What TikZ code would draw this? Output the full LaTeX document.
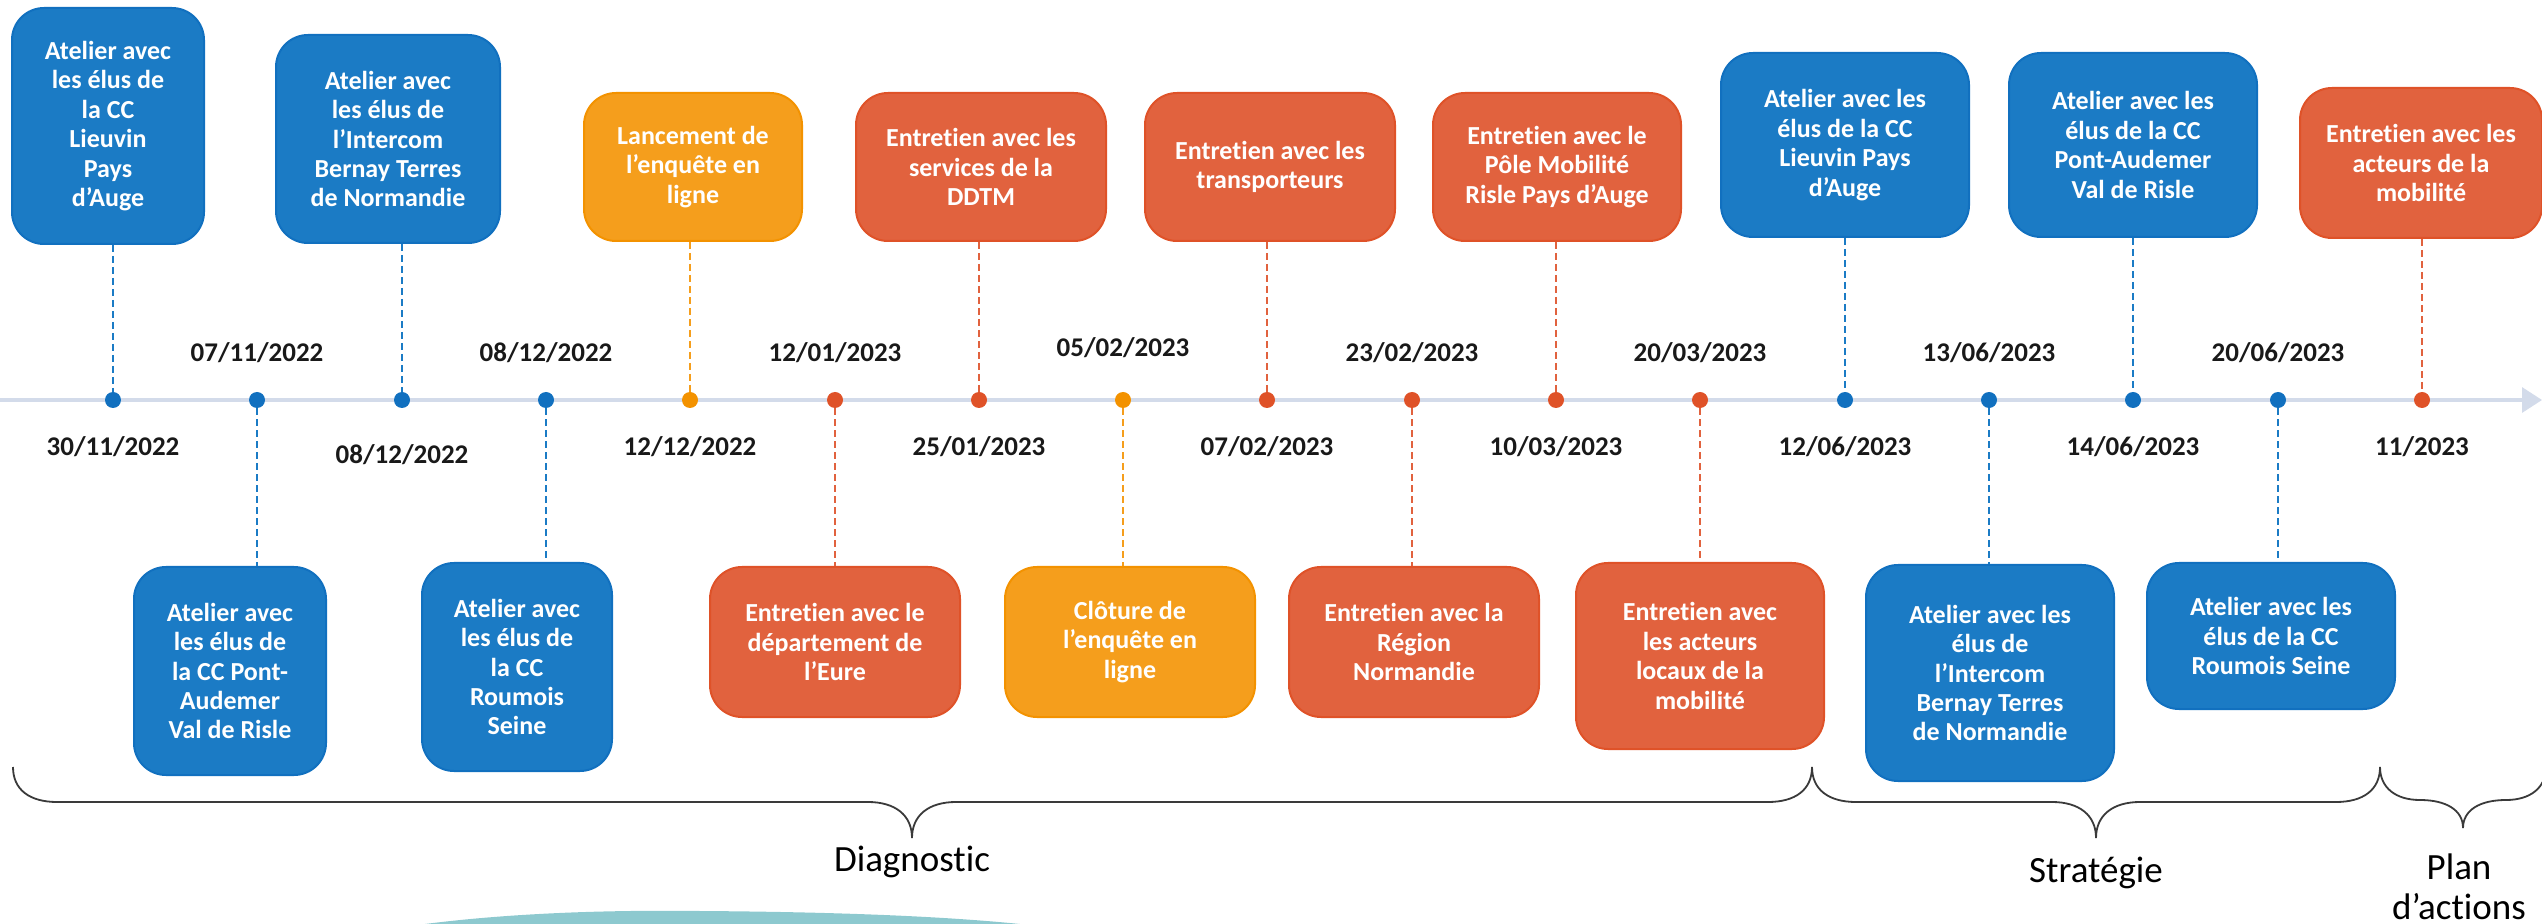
\documentclass[tikz,border=0pt]{standalone}
\usepackage{fontspec}
\setmainfont{Carlito}[Ligatures=NoCommon]
\usetikzlibrary{arrows.meta,positioning}
\definecolor{atelier}{HTML}{1B7BC5}
\definecolor{atelierfonce}{HTML}{1170BF}
\definecolor{entretien}{HTML}{E1623E}
\definecolor{entretienfonce}{HTML}{DF5228}
\definecolor{enquete}{HTML}{F59E1C}
\definecolor{enquetefonce}{HTML}{F39200}
\definecolor{axe}{HTML}{D3DBEA}
\definecolor{accolade}{HTML}{3A3A3A}
\definecolor{vague}{HTML}{8DC9CF}

\begin{document}
\begin{tikzpicture}[x=0.5pt, y=-0.5pt,
    etape/.style={rounded corners=16pt, line width=1pt, text=white, align=center,
        inner sep=0pt, font=\fontsize{13}{14.7}\selectfont\bfseries},
    atelier/.style={etape, fill=atelier, draw=atelierfonce},
    entretien/.style={etape, fill=entretien, draw=entretienfonce},
    enquete/.style={etape, fill=enquete, draw=enquetefonce},
    jalon/.style={circle, inner sep=0pt, minimum size=8pt},
    lien/.style={dash pattern=on 3.5pt off 2pt, line width=0.8pt},
    date/.style={font=\fontsize{13.5}{16}\selectfont\bfseries, text=black!90},
    phase/.style={font=\fontsize{18.5}{20}\selectfont, align=center},
    ligne/.style={draw=axe, line width=1.6pt, -{Triangle[length=10pt, width=12.5pt]}},
    accolade/.style={draw=accolade, line width=0.9pt}]
    \useasboundingbox (0,0) rectangle (2542,924);
    \fill[vague] (425,924) .. controls (520,912) and (620,910) .. (700,911)
        .. controls (850,912) and (950,917) .. (1020,924) -- cycle;
    \coordinate (debut) at (0,400);
    \coordinate (fin) at (2542,400);
    \draw[ligne] (debut) -- (fin);

    \node[jalon, fill=atelierfonce] (j0) at (113,400) {};
    \node[jalon, fill=atelierfonce] (j1) at (257,400) {};
    \node[jalon, fill=atelierfonce] (j2) at (402,400) {};
    \node[jalon, fill=atelierfonce] (j3) at (546,400) {};
    \node[jalon, fill=enquetefonce] (j4) at (690,400) {};
    \node[jalon, fill=entretienfonce] (j5) at (835,400) {};
    \node[jalon, fill=entretienfonce] (j6) at (979,400) {};
    \node[jalon, fill=enquetefonce] (j7) at (1123,400) {};
    \node[jalon, fill=entretienfonce] (j8) at (1267,400) {};
    \node[jalon, fill=entretienfonce] (j9) at (1412,400) {};
    \node[jalon, fill=entretienfonce] (j10) at (1556,400) {};
    \node[jalon, fill=entretienfonce] (j11) at (1700,400) {};
    \node[jalon, fill=atelierfonce] (j12) at (1845,400) {};
    \node[jalon, fill=atelierfonce] (j13) at (1989,400) {};
    \node[jalon, fill=atelierfonce] (j14) at (2133,400) {};
    \node[jalon, fill=atelierfonce] (j15) at (2278,400) {};
    \node[jalon, fill=entretienfonce] (j16) at (2422,400) {};

    \node[date] (t0) at (113,447) {30/11/2022};
    \node[date] (t1) at (257,353) {07/11/2022};
    \node[date] (t2) at (402,455) {08/12/2022};
    \node[date] (t3) at (546,353) {08/12/2022};
    \node[date] (t4) at (690,447) {12/12/2022};
    \node[date] (t5) at (835,353) {12/01/2023};
    \node[date] (t6) at (979,447) {25/01/2023};
    \node[date] (t7) at (1123,348) {05/02/2023};
    \node[date] (t8) at (1267,447) {07/02/2023};
    \node[date] (t9) at (1412,353) {23/02/2023};
    \node[date] (t10) at (1556,447) {10/03/2023};
    \node[date] (t11) at (1700,353) {20/03/2023};
    \node[date] (t12) at (1845,447) {12/06/2023};
    \node[date] (t13) at (1989,353) {13/06/2023};
    \node[date] (t14) at (2133,447) {14/06/2023};
    \node[date] (t15) at (2278,353) {20/06/2023};
    \node[date] (t16) at (2422,447) {11/2023};

    \node[atelier, minimum width=96pt, minimum height=118pt] (b0) at (108,126)
        {Atelier avec\\les élus de\\la CC\\Lieuvin\\Pays\\d’Auge};
    \node[atelier, minimum width=112pt, minimum height=104pt] (b2) at (388,139)
        {Atelier avec\\les élus de\\l’Intercom\\Bernay Terres\\de Normandie};
    \node[enquete, minimum width=109pt, minimum height=74pt] (b4) at (693,167)
        {Lancement de\\l’enquête en\\ligne};
    \node[entretien, minimum width=125pt, minimum height=74pt] (b6) at (981,167)
        {Entretien avec les\\services de la\\DDTM};
    \node[entretien, minimum width=125pt, minimum height=74pt] (b8) at (1270,167)
        {Entretien avec les\\transporteurs};
    \node[entretien, minimum width=124pt, minimum height=74pt] (b10) at (1557,167)
        {Entretien avec le\\Pôle Mobilité\\Risle Pays d’Auge};
    \node[atelier, minimum width=124pt, minimum height=92pt] (b12) at (1845,145)
        {Atelier avec les\\élus de la CC\\Lieuvin Pays\\d’Auge};
    \node[atelier, minimum width=124pt, minimum height=92pt] (b14) at (2133,145)
        {Atelier avec les\\élus de la CC\\Pont-Audemer\\Val de Risle};
    \node[entretien, minimum width=121pt, minimum height=75pt] (b16) at (2421,163)
        {Entretien avec les\\acteurs de la\\mobilité};

    \node[atelier, minimum width=96pt, minimum height=104pt] (b1) at (230,671)
        {Atelier avec\\les élus de\\la CC Pont-\\Audemer\\Val de Risle};
    \node[atelier, minimum width=95pt, minimum height=104pt] (b3) at (517,667)
        {Atelier avec\\les élus de\\la CC\\Roumois\\Seine};
    \node[entretien, minimum width=125pt, minimum height=75pt] (b5) at (835,642)
        {Entretien avec le\\département de\\l’Eure};
    \node[enquete, minimum width=125pt, minimum height=75pt] (b7) at (1130,642)
        {Clôture de\\l’enquête en\\ligne};
    \node[entretien, minimum width=125pt, minimum height=75pt] (b9) at (1414,642)
        {Entretien avec la\\Région\\Normandie};
    \node[entretien, minimum width=124pt, minimum height=93pt] (b11) at (1700,656)
        {Entretien avec\\les acteurs\\locaux de la\\mobilité};
    \node[atelier, minimum width=124pt, minimum height=108pt] (b13) at (1990,673)
        {Atelier avec les\\élus de\\l’Intercom\\Bernay Terres\\de Normandie};
    \node[atelier, minimum width=124pt, minimum height=73pt] (b15) at (2271,636)
        {Atelier avec les\\élus de la CC\\Roumois Seine};

    \draw[lien, draw=atelier] (j0 |- b0.south) -- (j0);
    \draw[lien, draw=atelier] (j2 |- b2.south) -- (j2);
    \draw[lien, draw=enquete] (j4 |- b4.south) -- (j4);
    \draw[lien, draw=entretien] (j6 |- b6.south) -- (j6);
    \draw[lien, draw=entretien] (j8 |- b8.south) -- (j8);
    \draw[lien, draw=entretien] (j10 |- b10.south) -- (j10);
    \draw[lien, draw=atelier] (j12 |- b12.south) -- (j12);
    \draw[lien, draw=atelier] (j14 |- b14.south) -- (j14);
    \draw[lien, draw=entretien] (j16 |- b16.south) -- (j16);
    \draw[lien, draw=atelier] (j1) -- (j1 |- b1.north);
    \draw[lien, draw=atelier] (j3) -- (j3 |- b3.north);
    \draw[lien, draw=entretien] (j5) -- (j5 |- b5.north);
    \draw[lien, draw=enquete] (j7) -- (j7 |- b7.north);
    \draw[lien, draw=entretien] (j9) -- (j9 |- b9.north);
    \draw[lien, draw=entretien] (j11) -- (j11 |- b11.north);
    \draw[lien, draw=atelier] (j13) -- (j13 |- b13.north);
    \draw[lien, draw=atelier] (j15) -- (j15 |- b15.north);

    \draw[accolade]
    (13,767) .. controls (13,790) and (30,802) .. (57,802) -- (868,802)
        .. controls (895,802) and (912,815) .. (912,838)
        .. controls (912,815) and (929,802) .. (956,802) -- (1768,802)
        .. controls (1795,802) and (1812,790) .. (1812,767)
    (1812,767) .. controls (1812,790) and (1829,802) .. (1856,802) -- (2052,802)
        .. controls (2079,802) and (2096,815) .. (2096,838)
        .. controls (2096,815) and (2113,802) .. (2140,802) -- (2336,802)
        .. controls (2363,802) and (2380,790) .. (2380,767)
    (2380,767) .. controls (2380,788) and (2396,800) .. (2420,800)
        .. controls (2446,800) and (2463,810) .. (2463,828)
        .. controls (2463,810) and (2480,800) .. (2506,800)
        .. controls (2530,800) and (2546,788) .. (2546,767);
    \node[phase] (diag) at (912,862) {Diagnostic};
    \node[phase] (strat) at (2096,873) {Stratégie};
    \node[phase] (plan) at (2459,887) {Plan\\d’actions};
\end{tikzpicture}
\end{document}
